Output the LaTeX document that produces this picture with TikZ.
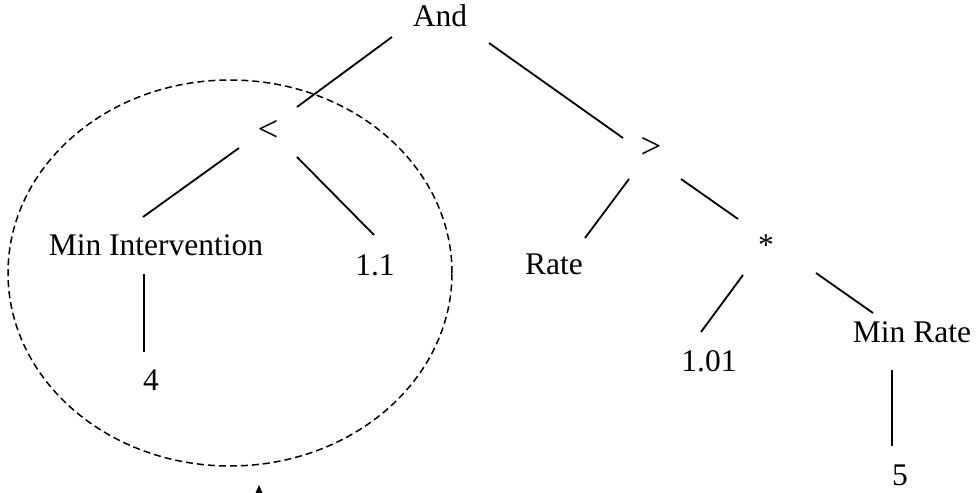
\documentclass[tikz,border=0pt]{standalone}
\usepackage{fontspec}
\setmainfont{Liberation Serif}
\begin{document}
\begin{tikzpicture}[x=1pt,y=1pt,
  lbl/.style={anchor=base,inner sep=0pt,font=\fontsize{31.5}{38}\selectfont},
  oplbl/.style={anchor=base,inner sep=0pt,font=\fontsize{37}{44}\selectfont},
  link/.style={line width=1.8pt},
  group/.style={line width=1.5pt,dash pattern=on 7pt off 4pt}]
\useasboundingbox (0,0) rectangle (978,493);
\node[lbl] (and) at (440,466) {And};
\node[oplbl] (lt) at (268,351) {<};
\node[oplbl] (gt) at (651,334) {>};
\node[lbl] (minint) at (156,237) {Min Intervention};
\node[lbl] (v11) at (375,217) {1.1};
\node[lbl] (v4) at (151,102) {4};
\node[lbl] (rate) at (554,218) {Rate};
\node[lbl] (mul) at (766,237) {*};
\node[lbl] (v101) at (709,121) {1.01};
\node[lbl] (minrate) at (912,150) {Min Rate};
\node[lbl] (v5) at (900,8) {5};
\draw[link] ([shift={(-48,-10)}]and.base) -- ([shift={(29,35)}]lt.base);
\draw[link] ([shift={(49,-16)}]and.base) -- ([shift={(-28,21)}]gt.base);
\draw[link] ([shift={(-29,-6)}]lt.base) -- ([shift={(-13,39)}]minint.base);
\draw[link] ([shift={(29,-15)}]lt.base) -- ([shift={(-1,41)}]v11.base);
\draw[link] ([shift={(-12,-18)}]minint.base) -- ([shift={(-7,39)}]v4.base);
\draw[link] ([shift={(-22,-20)}]gt.base) -- ([shift={(31,37)}]rate.base);
\draw[link] ([shift={(30,-20)}]gt.base) -- ([shift={(-28,37)}]mul.base);
\draw[link] ([shift={(-23,-19)}]mul.base) -- ([shift={(-8,40)}]v101.base);
\draw[link] ([shift={(50,-17)}]mul.base) -- ([shift={(-39,30)}]minrate.base);
\draw[link] ([shift={(-20,-27)}]minrate.base) -- ([shift={(-8,39)}]v5.base);
\draw[group] (230,220) ellipse [x radius=222, y radius=193];
\fill (255.5,0) -- (262.5,0) -- (259,8) -- cycle;
\end{tikzpicture}
\end{document}
